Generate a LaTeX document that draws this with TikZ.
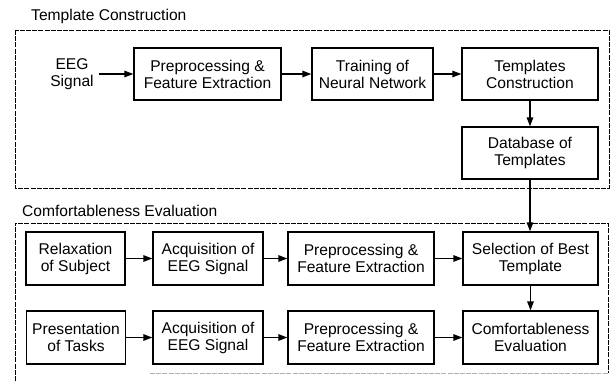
\documentclass[tikz,border=0pt]{standalone}
\usepackage{fontspec}
\setmainfont{Liberation Sans}
\usetikzlibrary{arrows.meta}
\begin{document}
\begin{tikzpicture}[x=1pt,y=-1pt,
  every node/.style={font=\fontsize{15.6}{17}\selectfont},
  blk/.style={draw, line width=1.3pt, align=center, inner sep=0pt, minimum height=52pt},
  lbl/.style={align=center, inner sep=0pt},
  frame/.style={line width=0.9pt, dash pattern=on 5pt off 1.2pt},
  flow/.style={line width=1.4pt, -{Triangle[length=9pt,width=6.5pt]}}]
\useasboundingbox (0,0) rectangle (611,381);

% Section titles
\node[anchor=west, inner sep=0pt] (t1) at (31,16) {Template Construction};
\node[anchor=west, inner sep=0pt] (t2) at (22,211) {Comfortableness Evaluation};

% Section frames
\draw[frame] (15,30) rectangle (609,188);
\draw[frame] (15,381) -- (15,223) -- (608,223) -- (608,373);
\draw[frame, gray!60] (150,373) -- (608,373);

% Template construction
\node[lbl] (eeg) at (72,74) {EEG\\Signal};
\node[blk, minimum width=147pt] (pre0) at (207.5,74) {Preprocessing \&\\Feature Extraction};
\node[blk, minimum width=121pt] (train) at (372.5,74) {Training of\\Neural Network};
\node[blk, minimum width=136pt] (tmpl) at (530,74) {Templates\\Construction};
\node[blk, minimum width=136pt] (db) at (530,153) {Database of\\Templates};

% Comfortableness evaluation
\node[blk, minimum width=99pt, minimum height=53pt] (relax) at (75.5,258.5) {Relaxation\\of Subject};
\node[blk, minimum width=110pt, minimum height=53pt] (acq1) at (208,258.5) {Acquisition of\\EEG Signal};
\node[blk, minimum width=146pt, minimum height=53pt] (pre1) at (361,258.5) {Preprocessing \&\\Feature Extraction};
\node[blk, minimum width=135pt, minimum height=53pt] (sel) at (530.5,258.5) {Selection of Best\\Template};

\node[blk, minimum width=99pt, minimum height=53pt] (pres) at (76,337.5) {Presentation\\of Tasks};
\node[blk, minimum width=110pt, minimum height=53pt] (acq2) at (208,337.5) {Acquisition of\\EEG Signal};
\node[blk, minimum width=146pt, minimum height=53pt] (pre2) at (361,337.5) {Preprocessing \&\\Feature Extraction};
\node[blk, minimum width=135pt, minimum height=53pt] (eval) at (530.5,337.5) {Comfortableness\\Evaluation};

% Connectors
\coordinate (eegout) at ([xshift=5pt]eeg.east);
\draw[flow] (eegout) -- (pre0.west);
\draw[flow] (pre0) -- (train);
\draw[flow] (train) -- (tmpl);
\draw[flow] (tmpl) -- (db);
\draw[flow] (db.south) -- (db.south |- sel.north);
\draw[flow] (relax) -- (acq1);
\draw[flow] (acq1) -- (pre1);
\draw[flow] (pre1) -- (sel);
\draw[flow] (sel) -- (eval);
\draw[flow] (pres) -- (acq2);
\draw[flow] (acq2) -- (pre2);
\draw[flow] (pre2) -- (eval);
\end{tikzpicture}
\end{document}
